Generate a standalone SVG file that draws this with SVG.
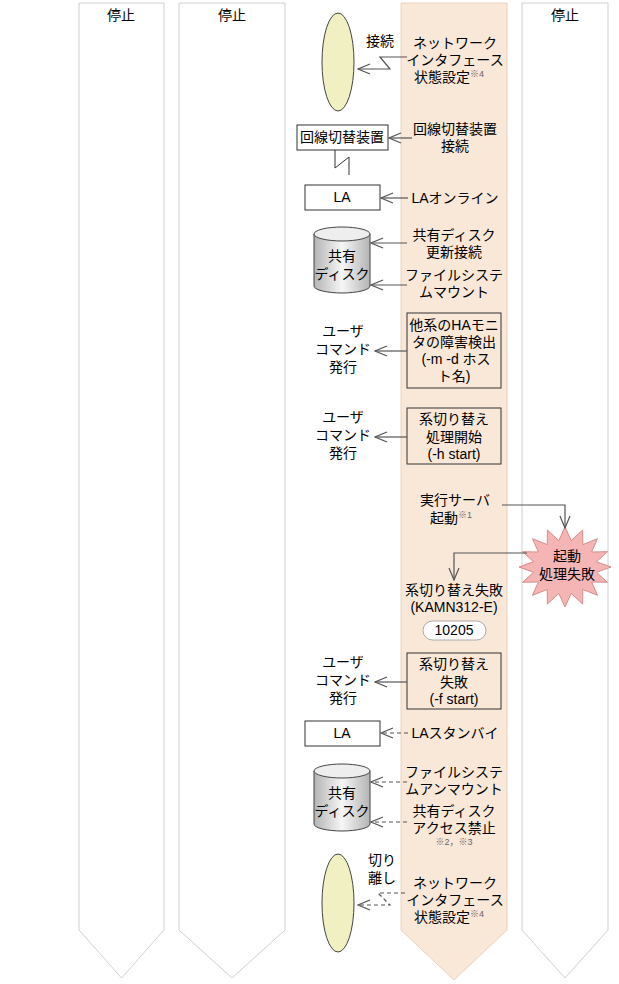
<svg xmlns="http://www.w3.org/2000/svg" width="619" height="984" viewBox="0 0 619 984">
<style>
text{font-family:"Liberation Sans","Noto Sans CJK JP",sans-serif;font-size:14px;fill:#000;text-anchor:middle}
.lane{fill:#fff;stroke:#d0d0d0;stroke-width:1}
.act{fill:#f9e7d8;stroke:#ecd2bc;stroke-width:1}
.box{fill:#fff;stroke:#333;stroke-width:1}
.cmd{fill:none;stroke:#333;stroke-width:1}
.ln{fill:none;stroke:#555;stroke-width:1.2;marker-end:url(#ah)}
.dl{fill:none;stroke:#555;stroke-width:1.2;stroke-dasharray:4,3;marker-end:url(#ah)}
.ell{fill:#f1f0c2;stroke:#444;stroke-width:1}
.sm{font-size:9px;fill:#666}
</style>
<defs>
<marker id="ah" markerWidth="14" markerHeight="12" refX="13" refY="6" orient="auto" markerUnits="userSpaceOnUse">
<path d="M1,1 L13,6 L1,11" fill="none" stroke="#555" stroke-width="1.2"/>
</marker>
<linearGradient id="cyl" x1="0" x2="1">
<stop offset="0" stop-color="#b4b4b4"/><stop offset="0.5" stop-color="#f6f6f6"/><stop offset="1" stop-color="#b4b4b4"/>
</linearGradient>
</defs>
<g id="lanes">
<path class="lane" d="M79,3 H164 V930 L121.5,978 L79,930 Z"/>
<path class="lane" d="M179,3 H285 V930 L232,978 L179,930 Z"/>
<path class="act" d="M401,3 H507 V930 L454,980 L401,930 Z"/>
<path class="lane" d="M522,3 H608 V930 L565,978 L522,930 Z"/>
<text x="121" y="20">停止</text>
<text x="232" y="20">停止</text>
<text x="565" y="20">停止</text>
</g>
<g id="nic1">
<ellipse class="ell" cx="338" cy="62" rx="16" ry="49"/>
<text x="380" y="46">接続</text>
</g>
<g id="nic-set1">
<text x="455" y="48">ネットワーク</text>
<text x="455" y="65">インタフェース</text>
<text x="449" y="82">状態設定<tspan class="sm" dy="-5">※4</tspan></text>
</g>
<g id="switch">
<rect class="box" x="297" y="125" width="91" height="25"/>
<text x="342" y="142">回線切替装置</text>
<text x="455" y="134">回線切替装置</text>
<text x="455" y="151">接続</text>
</g>
<g id="la1">
<rect class="box" x="305" y="185" width="75" height="25"/>
<text x="342" y="202">LA</text>
<text x="455" y="203">LAオンライン</text>
</g>
<g id="disk1">
<path d="M314,234 V286 A28,7 0 0 0 370,286 V234" fill="url(#cyl)" stroke="#444"/>
<ellipse cx="342" cy="234" rx="28" ry="7" fill="#eee" stroke="#444"/>
<text x="342" y="261">共有</text>
<text x="342" y="279">ディスク</text>
<text x="454" y="240">共有ディスク</text>
<text x="454" y="257">更新接続</text>
<text x="454" y="280">ファイルシステ</text>
<text x="454" y="297">ムマウント</text>
</g>
<g id="cmd1">
<rect class="cmd" x="407" y="313" width="94" height="75"/>
<text x="454" y="330">他系のHAモニ</text>
<text x="454" y="347">タの障害検出</text>
<text x="456" y="364">(-m -d ホス</text>
<text x="454" y="381">ト名)</text>
<text x="343" y="336">ユーザ</text>
<text x="343" y="354">コマンド</text>
<text x="343" y="372">発行</text>
</g>
<g id="cmd2">
<rect class="cmd" x="407" y="408" width="94" height="56"/>
<text x="454" y="424">系切り替え</text>
<text x="454" y="442">処理開始</text>
<text x="454" y="459">(-h start)</text>
<text x="343" y="422">ユーザ</text>
<text x="343" y="440">コマンド</text>
<text x="343" y="458">発行</text>
</g>
<g id="start">
<text x="455" y="505">実行サーバ</text>
<text x="451" y="523">起動<tspan class="sm" dy="-5">※1</tspan></text>
</g>
<g id="fail">
<polygon points="611,567 596.4,572.3 607.5,582.3 591.6,582 597.5,595.3 582.8,589.4 582.6,604 571.2,593.5 565,607 558.8,593.5 547.4,604 547.2,589.4 532.5,595.3 538.4,582 522.5,582.3 533.6,572.3 519,567 533.6,561.7 522.5,551.7 538.4,552 532.5,538.7 547.2,544.6 547.4,530 558.8,540.5 565,527 571.2,540.5 582.6,530 582.8,544.6 597.5,538.7 591.6,552 607.5,551.7 596.4,561.7" fill="#f6b5b5" stroke="#d68c8c"/>
<text x="567" y="561">起動</text>
<text x="567" y="579">処理失敗</text>
</g>
<g id="swfail">
<text x="454" y="595">系切り替え失敗</text>
<text x="454" y="612">(KAMN312-E)</text>
<rect x="423" y="621" width="63" height="19" rx="9.5" fill="#fff" stroke="#aaa"/>
<text x="454" y="635">10205</text>
</g>
<g id="cmd3">
<rect class="cmd" x="407" y="653" width="94" height="56"/>
<text x="454" y="669">系切り替え</text>
<text x="454" y="687">失敗</text>
<text x="454" y="704">(-f start)</text>
<text x="343" y="667">ユーザ</text>
<text x="343" y="685">コマンド</text>
<text x="343" y="703">発行</text>
</g>
<g id="la2">
<rect class="box" x="305" y="721" width="75" height="25"/>
<text x="342" y="738">LA</text>
<text x="455" y="738">LAスタンバイ</text>
</g>
<g id="disk2">
<path d="M314,771 V824 A28,7 0 0 0 370,824 V771" fill="url(#cyl)" stroke="#444"/>
<ellipse cx="342" cy="771" rx="28" ry="7" fill="#eee" stroke="#444"/>
<text x="342" y="798">共有</text>
<text x="342" y="816">ディスク</text>
<text x="454" y="777">ファイルシステ</text>
<text x="454" y="794">ムアンマウント</text>
<text x="454" y="816">共有ディスク</text>
<text x="454" y="833">アクセス禁止</text>
<text class="sm" x="454" y="845">※2，※3</text>
</g>
<g id="nic2">
<ellipse class="ell" cx="338" cy="903" rx="16" ry="49"/>
<text x="382" y="865">切り</text>
<text x="382" y="883">離し</text>
<text x="455" y="888">ネットワーク</text>
<text x="455" y="905">インタフェース</text>
<text x="449" y="922">状態設定<tspan class="sm" dy="-5">※4</tspan></text>
</g>
<g id="connectors">
<path class="ln" d="M407,57 H380 L390,69 H358"/>
<path class="ln" d="M412,138 H389"/>
<path fill="none" stroke="#333" d="M335,150 V168 L349,157 V175"/>
<path class="ln" d="M408,198 H381"/>
<path class="ln" d="M407,243 H371"/>
<path class="ln" d="M407,285 H371"/>
<path class="ln" d="M407,351 H375"/>
<path class="ln" d="M407,437 H375"/>
<path class="ln" d="M502,505 H565 V528"/>
<path class="ln" d="M527,553 H454 V580"/>
<path class="ln" d="M407,682 H375"/>
<path class="dl" d="M408,733 H381"/>
<path class="dl" d="M407,782 H371"/>
<path class="dl" d="M407,822 H371"/>
<path class="dl" d="M405,893 H378 L390,905 H358"/>
</g>
</svg>
